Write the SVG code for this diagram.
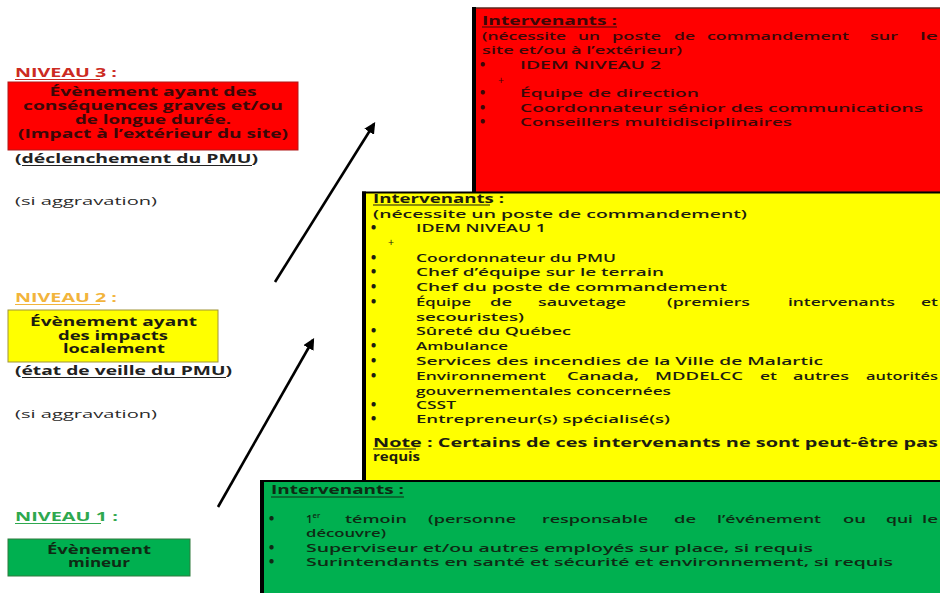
<svg xmlns="http://www.w3.org/2000/svg" width="940" height="593" viewBox="0 0 940 593">
<style>
text { font-family: "Open Sans", "DejaVu Sans", sans-serif; font-size: 11.5px; font-weight: 600; }
.b { font-weight: 700; }
.n { font-weight: 500; fill: #2a2a2a; }
.lt { font-size: 12.5px; font-weight: 700; }
.lb { font-size: 12px; }
.bl { font-size: 13px; font-weight: 800; }
.pl { font-size: 10.5px; font-weight: 400; }
.rt { fill: #3a0808; }
.yt { fill: #1c1c10; }
.gt { fill: #0f2a14; }
.ul { stroke-width: 1.2; }
.arrow { stroke: #000; stroke-width: 2.6; fill: none; marker-end: url(#ah); }
</style>
<defs>
<marker id="ah" viewBox="0 0 10 10" refX="8" refY="5" markerWidth="4.4" markerHeight="4.4" orient="auto" markerUnits="strokeWidth">
<path d="M0,0 L10,5 L0,10 Z" fill="#000"/>
</marker>
</defs>
<rect x="0" y="0" width="940" height="593" fill="#fff"/>

<g id="niveau3">
<text x="15" y="77" textLength="102" lengthAdjust="spacingAndGlyphs" class="b lb" fill="#cc2a22">NIVEAU 3 :</text>
<line x1="15" y1="79.5" x2="100" y2="79.5" stroke="#cc2a22" class="ul"/>
<rect x="8" y="82" width="290" height="68" fill="#ff0000" stroke="#b01818" stroke-width="1"/>
<text x="49.5" y="96" textLength="207" lengthAdjust="spacingAndGlyphs" class="lt rt">Évènement ayant des</text>
<text x="23" y="110" textLength="260" lengthAdjust="spacingAndGlyphs" class="lt rt">conséquences graves et/ou</text>
<text x="75" y="124" textLength="156" lengthAdjust="spacingAndGlyphs" class="lt rt">de longue durée.</text>
<text x="18" y="138" textLength="270" lengthAdjust="spacingAndGlyphs" class="lt rt">(Impact à l’extérieur du site)</text>
<text x="15" y="163" textLength="243" lengthAdjust="spacingAndGlyphs" class="b lb" fill="#222">(déclenchement du PMU)</text>
<line x1="22" y1="165.5" x2="252" y2="165.5" stroke="#222" class="ul"/>
<text x="15" y="205" textLength="142" lengthAdjust="spacingAndGlyphs" class="n">(si aggravation)</text>
</g>

<g id="niveau2">
<text x="15" y="302" textLength="102" lengthAdjust="spacingAndGlyphs" class="b lb" fill="#f2b43c">NIVEAU 2 :</text>
<line x1="15" y1="304.5" x2="100" y2="304.5" stroke="#f2b43c" class="ul"/>
<rect x="8" y="310" width="210" height="52" fill="#ffff00" stroke="#a09438" stroke-width="1"/>
<text x="30" y="326" textLength="167" lengthAdjust="spacingAndGlyphs" class="lt yt">Évènement ayant</text>
<text x="58" y="340" textLength="110" lengthAdjust="spacingAndGlyphs" class="lt yt">des impacts</text>
<text x="63" y="353" textLength="102" lengthAdjust="spacingAndGlyphs" class="lt yt">localement</text>
<text x="15" y="375" textLength="217" lengthAdjust="spacingAndGlyphs" class="b lb" fill="#222">(état de veille du PMU)</text>
<line x1="22" y1="377.5" x2="226" y2="377.5" stroke="#222" class="ul"/>
<text x="15" y="418" textLength="142" lengthAdjust="spacingAndGlyphs" class="n">(si aggravation)</text>
</g>

<g id="niveau1">
<text x="15" y="521" textLength="103" lengthAdjust="spacingAndGlyphs" class="b lb" fill="#2ea84e">NIVEAU 1 :</text>
<line x1="15" y1="523.5" x2="101" y2="523.5" stroke="#2ea84e" class="ul"/>
<rect x="8" y="539" width="182" height="37" fill="#00b050" stroke="#2f7a3c" stroke-width="1"/>
<text x="47" y="554" textLength="104" lengthAdjust="spacingAndGlyphs" class="lt gt">Évènement</text>
<text x="68" y="567" textLength="62" lengthAdjust="spacingAndGlyphs" class="lt gt">mineur</text>
</g>

<g id="connectors">
<line class="arrow" x1="275" y1="282" x2="374" y2="124"/>
<line class="arrow" x1="218" y1="507" x2="313" y2="340"/>
</g>

<g id="intervenants3">
<rect x="474" y="8" width="470" height="186" fill="#ff0000"/>
<line x1="474" y1="8" x2="940" y2="8" stroke="#5a2a20" stroke-width="1.5"/>
<line x1="474" y1="192.5" x2="940" y2="192.5" stroke="#7a3a10" stroke-width="1.5"/>
<line x1="474" y1="7" x2="474" y2="194" stroke="#000" stroke-width="4"/>
<text x="482" y="24.5" textLength="135" lengthAdjust="spacingAndGlyphs" class="b rt">Intervenants :</text>
<line x1="482" y1="27" x2="617" y2="27" stroke="#3a0808" class="ul"/>
<text x="482" y="40" textLength="84" lengthAdjust="spacingAndGlyphs" class="rt">(nécessite</text>
<text x="578" y="40" textLength="22" lengthAdjust="spacingAndGlyphs" class="rt">un</text>
<text x="612" y="40" textLength="49" lengthAdjust="spacingAndGlyphs" class="rt">poste</text>
<text x="674" y="40" textLength="21" lengthAdjust="spacingAndGlyphs" class="rt">de</text>
<text x="707" y="40" textLength="142" lengthAdjust="spacingAndGlyphs" class="rt">commandement</text>
<text x="870" y="40" textLength="28" lengthAdjust="spacingAndGlyphs" class="rt">sur</text>
<text x="920" y="40" textLength="18" lengthAdjust="spacingAndGlyphs" class="rt">le</text>
<text x="482" y="54" textLength="200" lengthAdjust="spacingAndGlyphs" class="rt">site et/ou à l’extérieur)</text>
<text x="480" y="68.5" class="bl rt">•</text>
<text x="520" y="68.5" textLength="141" lengthAdjust="spacingAndGlyphs" class="rt">IDEM NIVEAU 2</text>
<text x="498" y="84" class="pl rt">+</text>
<text x="480" y="97" class="bl rt">•</text>
<text x="520" y="97" textLength="179" lengthAdjust="spacingAndGlyphs" class="rt">Équipe de direction</text>
<text x="480" y="112" class="bl rt">•</text>
<text x="520" y="112" textLength="403" lengthAdjust="spacingAndGlyphs" class="rt">Coordonnateur sénior des communications</text>
<text x="480" y="126" class="bl rt">•</text>
<text x="520" y="126" textLength="272" lengthAdjust="spacingAndGlyphs" class="rt">Conseillers multidisciplinaires</text>
</g>

<g id="intervenants2">
<rect x="364" y="192" width="580" height="290" fill="#ffff00"/>
<line x1="362" y1="192.5" x2="940" y2="192.5" stroke="#000" stroke-width="2"/>
<line x1="364" y1="191.5" x2="364" y2="482" stroke="#000" stroke-width="4"/>
<text x="373" y="202.5" textLength="131" lengthAdjust="spacingAndGlyphs" class="b yt">Intervenants :</text>
<line x1="373" y1="205" x2="490" y2="205" stroke="#1c1c10" class="ul"/>
<text x="373" y="217.5" textLength="374" lengthAdjust="spacingAndGlyphs" class="yt">(nécessite un poste de commandement)</text>
<text x="371" y="231.5" class="bl yt">•</text>
<text x="416" y="231.5" textLength="130" lengthAdjust="spacingAndGlyphs" class="yt">IDEM NIVEAU 1</text>
<text x="388" y="246" class="pl yt">+</text>
<text x="371" y="261.5" class="bl yt">•</text>
<text x="416" y="261.5" textLength="200" lengthAdjust="spacingAndGlyphs" class="yt">Coordonnateur du PMU</text>
<text x="371" y="275.5" class="bl yt">•</text>
<text x="416" y="275.5" textLength="248" lengthAdjust="spacingAndGlyphs" class="yt">Chef d’équipe sur le terrain</text>
<text x="371" y="291" class="bl yt">•</text>
<text x="416" y="291" textLength="311" lengthAdjust="spacingAndGlyphs" class="yt">Chef du poste de commandement</text>
<text x="371" y="306" class="bl yt">•</text>
<text x="416" y="306" textLength="55" lengthAdjust="spacingAndGlyphs" class="yt">Équipe</text>
<text x="490" y="306" textLength="22" lengthAdjust="spacingAndGlyphs" class="yt">de</text>
<text x="538" y="306" textLength="88" lengthAdjust="spacingAndGlyphs" class="yt">sauvetage</text>
<text x="667" y="306" textLength="83" lengthAdjust="spacingAndGlyphs" class="yt">(premiers</text>
<text x="788" y="306" textLength="107" lengthAdjust="spacingAndGlyphs" class="yt">intervenants</text>
<text x="921" y="306" textLength="17" lengthAdjust="spacingAndGlyphs" class="yt">et</text>
<text x="416" y="320.5" textLength="108" lengthAdjust="spacingAndGlyphs" class="yt">secouristes)</text>
<text x="371" y="335" class="bl yt">•</text>
<text x="416" y="335" textLength="155" lengthAdjust="spacingAndGlyphs" class="yt">Sûreté du Québec</text>
<text x="371" y="350" class="bl yt">•</text>
<text x="416" y="350" textLength="92" lengthAdjust="spacingAndGlyphs" class="yt">Ambulance</text>
<text x="371" y="365" class="bl yt">•</text>
<text x="416" y="365" textLength="407" lengthAdjust="spacingAndGlyphs" class="yt">Services des incendies de la Ville de Malartic</text>
<text x="371" y="380" class="bl yt">•</text>
<text x="416" y="380" textLength="130" lengthAdjust="spacingAndGlyphs" class="yt">Environnement</text>
<text x="567" y="380" textLength="72" lengthAdjust="spacingAndGlyphs" class="yt">Canada,</text>
<text x="655" y="380" textLength="88" lengthAdjust="spacingAndGlyphs" class="yt">MDDELCC</text>
<text x="760" y="380" textLength="17" lengthAdjust="spacingAndGlyphs" class="yt">et</text>
<text x="793" y="380" textLength="56" lengthAdjust="spacingAndGlyphs" class="yt">autres</text>
<text x="866" y="380" textLength="72" lengthAdjust="spacingAndGlyphs" class="yt">autorités</text>
<text x="416" y="394.5" textLength="255" lengthAdjust="spacingAndGlyphs" class="yt">gouvernementales concernées</text>
<text x="371" y="408.5" class="bl yt">•</text>
<text x="416" y="408.5" textLength="40" lengthAdjust="spacingAndGlyphs" class="yt">CSST</text>
<text x="371" y="422.5" class="bl yt">•</text>
<text x="416" y="422.5" textLength="254" lengthAdjust="spacingAndGlyphs" class="yt">Entrepreneur(s) spécialisé(s)</text>
<text x="373" y="446.5" textLength="565" lengthAdjust="spacingAndGlyphs" class="b yt">Note : Certains de ces intervenants ne sont peut-être pas</text>
<line x1="373" y1="449" x2="416" y2="449" stroke="#1c1c10" class="ul"/>
<text x="373" y="460.5" textLength="47" lengthAdjust="spacingAndGlyphs" class="b yt">requis</text>
</g>

<g id="intervenants1">
<rect x="262" y="480" width="680" height="115" fill="#00b050"/>
<line x1="260" y1="481" x2="940" y2="481" stroke="#000" stroke-width="2"/>
<line x1="262" y1="480" x2="262" y2="593" stroke="#000" stroke-width="4"/>
<text x="271" y="494" textLength="133" lengthAdjust="spacingAndGlyphs" class="b gt">Intervenants :</text>
<line x1="271" y1="497" x2="404" y2="497" stroke="#0f2a14" class="ul"/>
<text x="269" y="523" class="bl gt">•</text>
<text x="306" y="523" class="gt">1<tspan font-size="7.5" dy="-5">er</tspan></text>
<text x="345" y="523" textLength="62" lengthAdjust="spacingAndGlyphs" class="gt">témoin</text>
<text x="428" y="523" textLength="88" lengthAdjust="spacingAndGlyphs" class="gt">(personne</text>
<text x="542" y="523" textLength="106" lengthAdjust="spacingAndGlyphs" class="gt">responsable</text>
<text x="674" y="523" textLength="22" lengthAdjust="spacingAndGlyphs" class="gt">de</text>
<text x="717" y="523" textLength="104" lengthAdjust="spacingAndGlyphs" class="gt">l’événement</text>
<text x="843" y="523" textLength="23" lengthAdjust="spacingAndGlyphs" class="gt">ou</text>
<text x="886" y="523" textLength="27" lengthAdjust="spacingAndGlyphs" class="gt">qui</text>
<text x="922" y="523" textLength="16" lengthAdjust="spacingAndGlyphs" class="gt">le</text>
<text x="306" y="537" textLength="80" lengthAdjust="spacingAndGlyphs" class="gt">découvre)</text>
<text x="269" y="551.5" class="bl gt">•</text>
<text x="306" y="551.5" textLength="507" lengthAdjust="spacingAndGlyphs" class="gt">Superviseur et/ou autres employés sur place, si requis</text>
<text x="269" y="565.5" class="bl gt">•</text>
<text x="306" y="565.5" textLength="587" lengthAdjust="spacingAndGlyphs" class="gt">Surintendants en santé et sécurité et environnement, si requis</text>
</g>
</svg>
